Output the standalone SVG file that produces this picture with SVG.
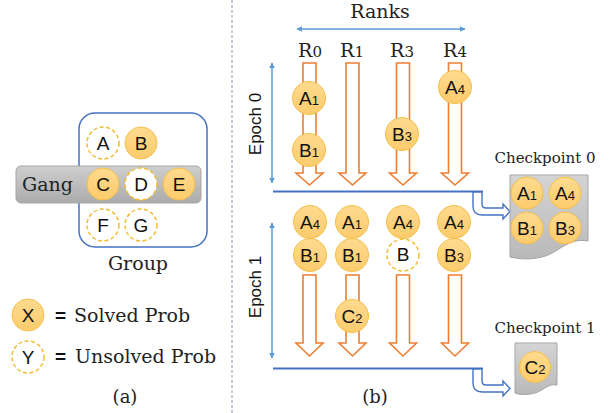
<svg xmlns="http://www.w3.org/2000/svg" width="613" height="413" viewBox="0 0 613 413">
<defs>
<style>
.ser{font-family:"DejaVu Serif","Liberation Serif",serif;fill:#222}
.sans{font-family:"Liberation Sans",Arial,sans-serif;fill:#111}
.lt{font-family:"Liberation Sans",Arial,sans-serif;font-size:19px;fill:#111;text-anchor:middle}
.sub{font-size:13px}
.sol{fill:url(#gSol);stroke:#f4c04c;stroke-width:1}
.uns{fill:#fff;stroke:#f2bd30;stroke-width:1.5;stroke-dasharray:4 2.5}
.rk{fill:#fff;stroke:#ed7d31;stroke-width:1.6}
.bl{stroke:#5b9bd5;stroke-width:1.5;fill:none}
.sep{stroke:#4472c4;stroke-width:2.2;fill:none}
.bent{fill:#fff;stroke:#4472c4;stroke-width:1.4}
.doc{fill:url(#gDoc);stroke:#a5a5a5;stroke-width:1}
</style>
<linearGradient id="gSol" x1="0" y1="0" x2="0" y2="1">
<stop offset="0" stop-color="#fedb8f"/><stop offset="1" stop-color="#fccb6c"/>
</linearGradient>
<linearGradient id="gDoc" x1="0" y1="0" x2="0" y2="1">
<stop offset="0" stop-color="#d4d4d4"/><stop offset="1" stop-color="#b9b9b9"/>
</linearGradient>
<linearGradient id="gGang" x1="0" y1="0" x2="0" y2="1">
<stop offset="0" stop-color="#cfcfcf"/><stop offset="1" stop-color="#ababab"/>
</linearGradient>
<marker id="ah" viewBox="0 0 10 10" refX="9" refY="5" markerWidth="6" markerHeight="6" markerUnits="userSpaceOnUse" orient="auto-start-reverse">
<path d="M0,0 L10,5 L0,10 Z" fill="#5b9bd5"/>
</marker>
</defs>
<rect width="613" height="413" fill="#fff"/>

<!-- divider -->
<line x1="232" y1="0" x2="232" y2="413" stroke="#8497b0" stroke-width="1" stroke-dasharray="3 2"/>

<!-- panel (a) -->
<g id="group">
<rect x="79" y="113" width="128" height="134" rx="16" fill="none" stroke="#4472c4" stroke-width="1.5"/>
<text class="ser" x="138" y="270" font-size="19" text-anchor="middle">Group</text>
</g>
<g id="gang">
<rect x="16" y="166" width="185" height="37" rx="5" fill="url(#gGang)" stroke="#a6a6a6" stroke-width="1"/>
<text class="ser" x="22" y="191" font-size="19">Gang</text>
</g>
<g id="probA"><circle class="uns" cx="103" cy="143" r="16"/><text class="lt" x="103" y="150">A</text></g>
<g id="probB"><circle class="sol" cx="141" cy="143" r="16"/><text class="lt" x="141" y="150">B</text></g>
<g id="probC"><circle class="sol" cx="103" cy="184" r="16"/><text class="lt" x="103" y="191">C</text></g>
<g id="probD"><circle class="uns" cx="141" cy="184" r="16"/><text class="lt" x="141" y="191">D</text></g>
<g id="probE"><circle class="sol" cx="179" cy="184" r="16"/><text class="lt" x="179" y="191">E</text></g>
<g id="probF"><circle class="uns" cx="103" cy="225" r="16"/><text class="lt" x="103" y="232">F</text></g>
<g id="probG"><circle class="uns" cx="141" cy="225" r="16"/><text class="lt" x="141" y="232">G</text></g>

<g id="legendSolved">
<circle class="sol" cx="28" cy="315" r="16"/><text class="lt" x="28" y="322">X</text>
<text x="55" y="322" font-size="19"><tspan class="sans" font-weight="bold">=</tspan><tspan class="ser" x="74">Solved Prob</tspan></text>
</g>
<g id="legendUnsolved">
<circle class="uns" cx="28" cy="357" r="16"/><text class="lt" x="28" y="364">Y</text>
<text x="55" y="363" font-size="19"><tspan class="sans" font-weight="bold">=</tspan><tspan class="ser" x="75">Unsolved Prob</tspan></text>
</g>
<text class="ser" x="125" y="403" font-size="18" text-anchor="middle">(a)</text>

<!-- panel (b) -->
<g id="connectors">
<line class="bl" x1="297" y1="29" x2="465" y2="29" marker-start="url(#ah)" marker-end="url(#ah)"/>
<line class="bl" x1="272" y1="63" x2="272" y2="183" marker-start="url(#ah)" marker-end="url(#ah)"/>
<line class="bl" x1="272" y1="223" x2="272" y2="358" marker-start="url(#ah)" marker-end="url(#ah)"/>
<path class="rk" d="M303,63 H316 V173 H323 L309.5,185 L296,173 H303 Z"/>
<path class="rk" d="M346,63 H359 V173 H366 L352.5,185 L339,173 H346 Z"/>
<path class="rk" d="M396.5,63 H409.5 V173 H416.5 L403,185 L389.5,173 H396.5 Z"/>
<path class="rk" d="M448.5,63 H461.5 V173 H468.5 L455,185 L441.5,173 H448.5 Z"/>
<path class="rk" d="M303,275 H316 V343 H323 L309.5,356 L296,343 H303 Z"/>
<path class="rk" d="M346,275 H359 V343 H366 L352.5,356 L339,343 H346 Z"/>
<path class="rk" d="M396.5,275 H409.5 V343 H416.5 L403,356 L389.5,343 H396.5 Z"/>
<path class="rk" d="M448.5,275 H461.5 V343 H468.5 L455,356 L441.5,343 H448.5 Z"/>
<line class="sep" x1="273" y1="191.5" x2="483" y2="191.5"/>
<line class="sep" x1="273" y1="368.5" x2="483" y2="368.5"/>
<path class="bent" d="M473,192 V206 Q473,215 482,215 H503 V219 L510,211.5 L503,204 V208 H486 Q482,208 482,204 V192 Z"/>
<path class="bent" d="M473,369 V383 Q473,392 482,392 H503 V396 L510,388.5 L503,381 V385 H486 Q482,385 482,381 V369 Z"/>
</g>

<text class="ser" x="380" y="18" font-size="19" text-anchor="middle">Ranks</text>
<g class="ser" font-size="19" text-anchor="middle">
<text x="310" y="57">R<tspan font-size="15">0</tspan></text>
<text x="352" y="57">R<tspan font-size="15">1</tspan></text>
<text x="402" y="57">R<tspan font-size="15">3</tspan></text>
<text x="455" y="57">R<tspan font-size="15">4</tspan></text>
</g>
<text class="sans" font-size="17" text-anchor="middle" transform="translate(261,124) rotate(-90)">Epoch 0</text>
<text class="sans" font-size="17" text-anchor="middle" transform="translate(261,287) rotate(-90)">Epoch 1</text>

<g id="e0A1"><circle class="sol" cx="309" cy="98" r="16.5"/><text class="lt" x="309" y="105">A<tspan class="sub">1</tspan></text></g>
<g id="e0B1"><circle class="sol" cx="309" cy="150" r="16.5"/><text class="lt" x="309" y="157">B<tspan class="sub">1</tspan></text></g>
<g id="e0B3"><circle class="sol" cx="402" cy="134" r="16.5"/><text class="lt" x="402" y="141">B<tspan class="sub">3</tspan></text></g>
<g id="e0A4"><circle class="sol" cx="455" cy="87" r="16.5"/><text class="lt" x="455" y="94">A<tspan class="sub">4</tspan></text></g>

<g id="e1r0A4"><circle class="sol" cx="310" cy="222" r="16.5"/><text class="lt" x="310" y="229">A<tspan class="sub">4</tspan></text></g>
<g id="e1r1A1"><circle class="sol" cx="352" cy="222" r="16.5"/><text class="lt" x="352" y="229">A<tspan class="sub">1</tspan></text></g>
<g id="e1r3A4"><circle class="sol" cx="403" cy="222" r="16.5"/><text class="lt" x="403" y="229">A<tspan class="sub">4</tspan></text></g>
<g id="e1r4A4"><circle class="sol" cx="454" cy="222" r="16.5"/><text class="lt" x="454" y="229">A<tspan class="sub">4</tspan></text></g>
<g id="e1r0B1"><circle class="sol" cx="310" cy="255" r="16.5"/><text class="lt" x="310" y="262">B<tspan class="sub">1</tspan></text></g>
<g id="e1r1B1"><circle class="sol" cx="352" cy="255" r="16.5"/><text class="lt" x="352" y="262">B<tspan class="sub">1</tspan></text></g>
<g id="e1r3B"><circle class="uns" cx="403" cy="255" r="16"/><text class="lt" x="403" y="261" font-size="15">B</text></g>
<g id="e1r4B3"><circle class="sol" cx="454" cy="255" r="16.5"/><text class="lt" x="454" y="262">B<tspan class="sub">3</tspan></text></g>
<g id="e1r1C2"><circle class="sol" cx="352" cy="316" r="16.5"/><text class="lt" x="352" y="323">C<tspan class="sub">2</tspan></text></g>

<g id="checkpoint0">
<text class="ser" x="545" y="163" font-size="15" text-anchor="middle">Checkpoint 0</text>
<path class="doc" d="M510,175 H588 V241 C568,237 557,254 542,257 C530,260 519,259 510,257 Z"/>
<circle class="sol" cx="527" cy="193" r="16"/><text class="lt" x="527" y="200">A<tspan class="sub">1</tspan></text>
<circle class="sol" cx="565" cy="193" r="16"/><text class="lt" x="565" y="200">A<tspan class="sub">4</tspan></text>
<circle class="sol" cx="527" cy="228" r="16"/><text class="lt" x="527" y="235">B<tspan class="sub">1</tspan></text>
<circle class="sol" cx="565" cy="228" r="16"/><text class="lt" x="565" y="235">B<tspan class="sub">3</tspan></text>
</g>
<g id="checkpoint1">
<text class="ser" x="545" y="333" font-size="15" text-anchor="middle">Checkpoint 1</text>
<path class="doc" d="M515,343 H557 V385 C548,383 543,391 535,393 C528,395 520,395 515,393 Z"/>
<circle class="sol" cx="535" cy="367" r="15.5"/><text class="lt" x="535" y="374">C<tspan class="sub">2</tspan></text>
</g>
<text class="ser" x="375" y="403" font-size="18" text-anchor="middle">(b)</text>
</svg>
